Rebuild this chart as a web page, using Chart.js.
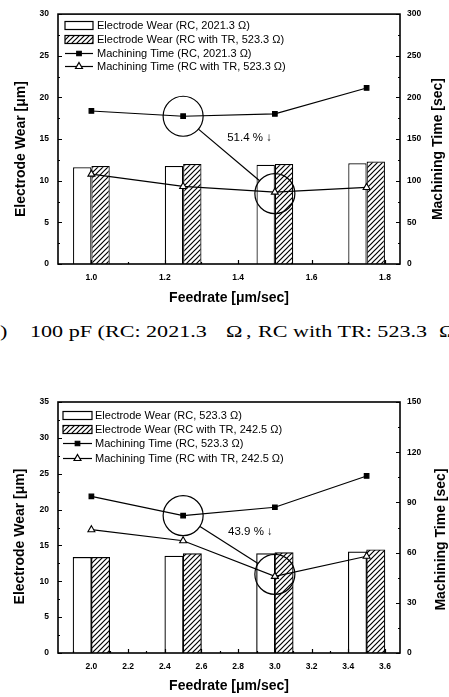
<!DOCTYPE html>
<html><head><meta charset="utf-8">
<script src="https://cdn.jsdelivr.net/npm/chart.js@4/dist/chart.umd.min.js"></script>
<style>
html,body{margin:0;padding:0;background:#fff;width:449px;height:697px;overflow:hidden;position:relative}
.w{position:absolute;left:0;width:449px}
#w1{top:0;height:310px}
#w2{top:380px;height:317px}
.cap{position:absolute;top:322px;font-family:"Liberation Serif","Times New Roman",serif;font-size:17px;line-height:20px;white-space:pre;transform:scaleX(1.3);transform-origin:0 0;color:#000}
</style></head><body>
<div class="w" id="w1"><canvas id="c1"></canvas></div>
<div class="w" id="w2"><canvas id="c2"></canvas></div>
<div class="cap" style="left:0px">)</div>
<div class="cap" style="left:30px">100 pF (RC: 2021.3</div>
<div class="cap" style="left:226px">Ω</div>
<div class="cap" style="left:246px">,</div>
<div class="cap" style="left:258px">RC with TR: 523.3</div>
<div class="cap" style="left:439px">Ω</div>
<script>
// ---- Chart (a): 100 pF ----
const feedrate1 = [1.0, 1.25, 1.5, 1.75];
const wearRC1 = [11.6, 11.75, 11.9, 12.1];
const wearTR1 = [11.75, 12.0, 12.0, 12.3];
const timeRC1 = [183.7, 177.4, 180.2, 211.3];
const timeTR1 = [107.9, 93.1, 86.3, 91.9];
const xTickVals1 = [1.0, 1.2, 1.4, 1.6, 1.8];
const xTickLabels1 = ['1.0', '1.2', '1.4', '1.6', '1.8'];
const yLTicks1 = [0, 5, 10, 15, 20, 25, 30];
const yRTicks1 = [0, 50, 100, 150, 200, 250, 300];
const labels1 = ['Electrode Wear (RC, 2021.3 Ω)', 'Electrode Wear (RC with TR, 523.3 Ω)',
                 'Machining Time (RC, 2021.3 Ω)', 'Machining Time (RC with TR, 523.3 Ω)'];
const note1 = '51.4 % ↓';

// ---- Chart (b) ----
const feedrate2 = [2.0, 2.5, 3.0, 3.5];
const wearRC2 = [13.35, 13.5, 13.85, 14.1];
const wearTR2 = [13.35, 13.85, 14.0, 14.4];
const timeRC2 = [93.6, 82.1, 87.1, 105.8];
const timeTR2 = [73.7, 67.1, 45.8, 57.8];
const xTickVals2 = [2.0, 2.2, 2.4, 2.6, 2.8, 3.0, 3.2, 3.4, 3.6];
const xTickLabels2 = ['2.0', '2.2', '2.4', '2.6', '2.8', '3.0', '3.2', '3.4', '3.6'];
const yLTicks2 = [0, 5, 10, 15, 20, 25, 30, 35];
const yRTicks2 = [0, 30, 60, 90, 120, 150];
const labels2 = ['Electrode Wear (RC, 523.3 Ω)', 'Electrode Wear (RC with TR, 242.5 Ω)',
                 'Machining Time (RC, 523.3 Ω)', 'Machining Time (RC with TR, 242.5 Ω)'];
const note2 = '43.9 % ↓';

const SANS = '"Liberation Sans", Arial, Helvetica, sans-serif';

function hatch() {
  const c = document.createElement('canvas'); c.width = 5; c.height = 5;
  const g = c.getContext('2d');
  g.fillStyle = '#fff'; g.fillRect(0, 0, 5, 5);
  g.strokeStyle = '#000'; g.lineWidth = 1.2;
  g.beginPath();
  g.moveTo(-1, 6); g.lineTo(6, -1);
  g.moveTo(-1, 1); g.lineTo(1, -1);
  g.moveTo(4, 6); g.lineTo(6, 4);
  g.stroke();
  return g.createPattern(c, 'repeat');
}

function minors(vals, lo, hi) {
  const out = [];
  const step = vals[1] - vals[0];
  for (let i = -1; i < vals.length; i++) {
    const m = (i < 0 ? vals[0] - step / 2 : vals[i] + step / 2);
    if (m > lo && m < hi) out.push(m);
  }
  return out;
}

function makeChart(id, cfg) {
  const pts = ys => cfg.x.map((x, i) => ({ x, y: ys[i] }));
  const deco = {
    id: 'deco',
    afterDraw(chart) {
      const ctx = chart.ctx, ca = chart.chartArea;
      const sx = chart.scales.x, yl = chart.scales.yL, yr = chart.scales.yR;
      ctx.save();
      ctx.strokeStyle = '#000'; ctx.fillStyle = '#000';
      // inward ticks
      ctx.lineWidth = 1.2;
      ctx.beginPath();
      const tk = (scale, vals, len, side) => vals.forEach(v => {
        const p = Math.round(scale.getPixelForValue(v)) + 0.5;
        if (side === 'b') { ctx.moveTo(p, ca.bottom); ctx.lineTo(p, ca.bottom - len); }
        if (side === 'l') { ctx.moveTo(ca.left, p); ctx.lineTo(ca.left + len, p); }
        if (side === 'r') { ctx.moveTo(ca.right, p); ctx.lineTo(ca.right - len, p); }
      });
      tk(sx, cfg.xTicks, 4, 'b'); tk(sx, minors(cfg.xTicks, sx.min, sx.max), 2, 'b');
      tk(yl, cfg.yLTicks, 4, 'l'); tk(yl, minors(cfg.yLTicks, yl.min, yl.max), 2, 'l');
      tk(yr, cfg.yRTicks, 4, 'r'); tk(yr, minors(cfg.yRTicks, yr.min, yr.max), 2, 'r');
      ctx.stroke();
      // frame
      ctx.lineWidth = 1.6;
      ctx.strokeRect(ca.left, ca.top, ca.right - ca.left, ca.bottom - ca.top);
      // legend
      const L = cfg.legend;
      ctx.font = '11px ' + SANS;
      ctx.textAlign = 'left'; ctx.textBaseline = 'middle';
      chart.data.datasets.forEach((ds, i) => {
        const y = Math.round(ca.top + L.dy + i * L.step) + 0.5;
        const x0 = ca.left + L.dx, x1 = x0 + L.sw;
        ctx.lineWidth = 1.2; ctx.strokeStyle = '#000';
        if (ds.type === 'bar') {
          ctx.fillStyle = ds.backgroundColor;
          ctx.fillRect(x0, y - 4, L.sw, 8);
          ctx.strokeRect(x0, y - 4, L.sw, 8);
        } else {
          ctx.beginPath(); ctx.moveTo(x0, y); ctx.lineTo(x1, y); ctx.stroke();
          ctx.fillStyle = ds.pointBackgroundColor;
          Chart.helpers.drawPoint(ctx, { pointStyle: ds.pointStyle, radius: ds.pointRadius, rotation: 0, borderWidth: 1.2 }, (x0 + x1) / 2, y);
        }
        ctx.fillStyle = '#000';
        ctx.fillText(ds.label, x1 + L.gap, y);
      });
      // highlight circles
      const A = cfg.ann;
      const c1 = { x: sx.getPixelForValue(A.p1[0]), y: yr.getPixelForValue(A.p1[1]) };
      const c2 = { x: sx.getPixelForValue(A.p2[0]), y: yr.getPixelForValue(A.p2[1]) + A.dy2 };
      const r = 20;
      ctx.lineWidth = 1.2;
      ctx.beginPath(); ctx.arc(c1.x, c1.y, r, 0, Math.PI * 2); ctx.stroke();
      ctx.beginPath(); ctx.arc(c2.x, c2.y, r, 0, Math.PI * 2); ctx.stroke();
      const dx = c2.x - c1.x, dy = c2.y - c1.y, d = Math.hypot(dx, dy);
      ctx.beginPath();
      ctx.moveTo(c1.x + dx / d * r, c1.y + dy / d * r);
      ctx.lineTo(c2.x - dx / d * r, c2.y - dy / d * r);
      ctx.stroke();
      ctx.font = '11.5px ' + SANS;
      ctx.fillText(A.text, sx.getPixelForValue(A.label[0]), yr.getPixelForValue(A.label[1]));
      // axis titles
      ctx.font = 'bold 14px ' + SANS;
      ctx.textAlign = 'center'; ctx.textBaseline = 'middle';
      const T = cfg.titles;
      const mid = (ca.top + ca.bottom) / 2;
      ctx.save(); ctx.translate(T.lx, mid + T.ldy); ctx.rotate(-Math.PI / 2);
      ctx.fillText('Electrode Wear [μm]', 0, 0); ctx.restore();
      ctx.save(); ctx.translate(T.rx, mid + T.rdy); ctx.rotate(-Math.PI / 2);
      ctx.fillText('Machining Time [sec]', 0, 0); ctx.restore();
      ctx.fillText('Feedrate [μm/sec]', (ca.left + ca.right) / 2, T.by);
      ctx.restore();
    }
  };
  const tickFont = { family: SANS, size: 8.5, weight: 'bold' };
  return new Chart(document.getElementById(id), {
    type: 'bar',
    data: {
      datasets: [
        { type: 'bar', label: cfg.labels[0], data: pts(cfg.wearRC), yAxisID: 'yL', backgroundColor: '#fff',
          borderColor: '#000', borderWidth: 1.2, order: 2, barPercentage: 1, categoryPercentage: cfg.catPct },
        { type: 'bar', label: cfg.labels[1], data: pts(cfg.wearTR), yAxisID: 'yL', backgroundColor: hatch(),
          borderColor: '#000', borderWidth: 1.2, order: 2, barPercentage: 1, categoryPercentage: cfg.catPct },
        { type: 'line', label: cfg.labels[2], data: pts(cfg.timeRC), yAxisID: 'yR', borderColor: '#000', borderWidth: 1.2,
          pointStyle: 'rect', pointRadius: 3.2, pointBackgroundColor: '#000', pointBorderColor: '#000', order: 1, tension: 0 },
        { type: 'line', label: cfg.labels[3], data: pts(cfg.timeTR), yAxisID: 'yR', borderColor: '#000', borderWidth: 1.2,
          pointStyle: 'triangle', pointRadius: 4, pointBackgroundColor: '#fff', pointBorderColor: '#000',
          pointBorderWidth: 1.1, order: 1, tension: 0 }
      ]
    },
    options: {
      responsive: true, maintainAspectRatio: false, animation: false,
      layout: { padding: { top: cfg.padTop, left: 0, right: 0, bottom: 0 } },
      plugins: { legend: { display: false }, tooltip: { enabled: false } },
      scales: {
        x: {
          type: 'linear', min: cfg.xMin, max: cfg.xMax, offset: false,
          grid: { display: false, drawTicks: false }, border: { display: false },
          afterBuildTicks: s => { s.ticks = cfg.xTicks.map(v => ({ value: v })); },
          ticks: { font: tickFont, color: '#000', padding: 9, maxRotation: 0, autoSkip: false,
                   callback: (v, i) => cfg.xLabels[i] },
          afterFit: s => { s.height = cfg.xH; }
        },
        yL: {
          position: 'left', min: 0, max: cfg.yLTicks[cfg.yLTicks.length - 1],
          grid: { display: false, drawTicks: false }, border: { display: false },
          afterBuildTicks: s => { s.ticks = cfg.yLTicks.map(v => ({ value: v })); },
          ticks: { font: tickFont, color: '#000', padding: 9 },
          afterFit: s => { s.width = 58; }
        },
        yR: {
          position: 'right', min: 0, max: cfg.yRTicks[cfg.yRTicks.length - 1],
          grid: { display: false, drawTicks: false }, border: { display: false },
          afterBuildTicks: s => { s.ticks = cfg.yRTicks.map(v => ({ value: v })); },
          ticks: { font: tickFont, color: '#000', padding: 7 },
          afterFit: s => { s.width = 49; }
        }
      }
    },
    plugins: [deco]
  });
}

makeChart('c1', {
  x: feedrate1, wearRC: wearRC1, wearTR: wearTR1, timeRC: timeRC1, timeTR: timeTR1, labels: labels1,
  xTicks: xTickVals1, xLabels: xTickLabels1, yLTicks: yLTicks1, yRTicks: yRTicks1,
  xMin: 0.909, xMax: 1.841, catPct: 0.5, padTop: 14, xH: 46,
  legend: { dx: 7, dy: 11, step: 13.7, sw: 28, gap: 4 },
  ann: { p1: [feedrate1[1], timeRC1[1]], p2: [feedrate1[2], timeTR1[2]], dy2: 1.5,
         label: [1.37, 151], text: note1 },
  titles: { lx: 21, ldy: 10, rx: 438, rdy: 10, by: 298 }
});

makeChart('c2', {
  x: feedrate2, wearRC: wearRC2, wearTR: wearTR2, timeRC: timeRC2, timeTR: timeTR2, labels: labels2,
  xTicks: xTickVals2, xLabels: xTickLabels2, yLTicks: yLTicks2, yRTicks: yRTicks2,
  xMin: 1.818, xMax: 3.682, catPct: 1.0, padTop: 22, xH: 44,
  legend: { dx: 5, dy: 13, step: 14.2, sw: 29, gap: 3 },
  ann: { p1: [feedrate2[1], timeRC2[1]], p2: [feedrate2[2], timeTR2[2]], dy2: -2,
         label: [2.745, 72.3], text: note2 },
  titles: { lx: 20, ldy: 9, rx: 441.5, rdy: 12, by: 306 }
});
</script>
</body></html>
